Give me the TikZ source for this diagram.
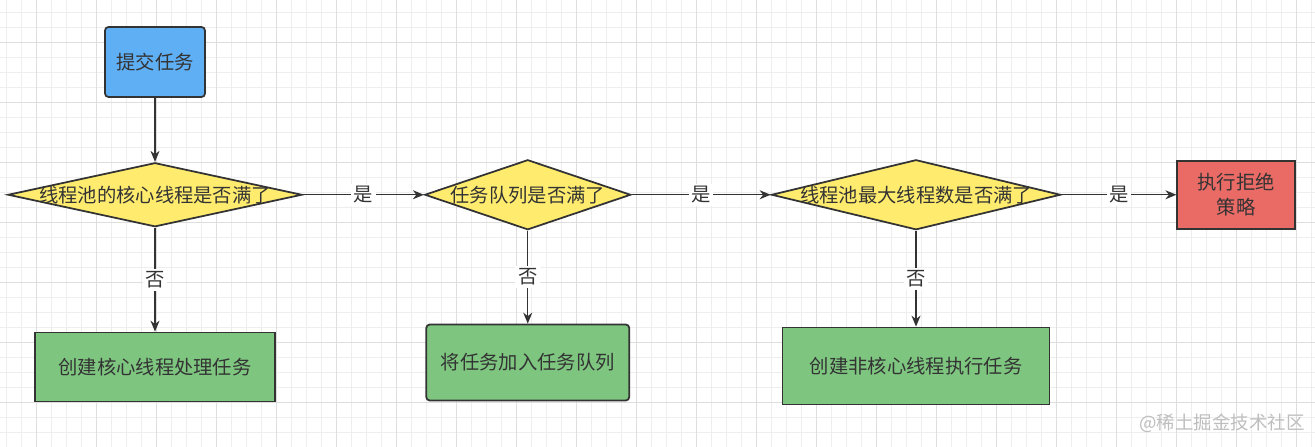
\documentclass[tikz,border=0pt]{standalone}
\usepackage{fontspec}
\usepackage{tikz}
\usetikzlibrary{arrows.meta,positioning,shapes.geometric}
\newfontfamily\cjk{Noto Sans CJK SC}
\definecolor{darkline}{RGB}{51,51,51}
\definecolor{gridminor}{RGB}{238,238,238}
\definecolor{gridmajor}{RGB}{222,222,222}
\definecolor{startblue}{RGB}{95,175,245}
\definecolor{askyellow}{RGB}{255,236,110}
\definecolor{doneGreen}{RGB}{126,198,128}
\definecolor{rejectred}{RGB}{234,107,102}
\definecolor{marktext}{RGB}{190,190,190}

\begin{document}
\begin{tikzpicture}[
        font=\cjk\fontsize{11}{14}\selectfont, text=darkline,
        startbox/.style={rectangle, draw=darkline, line width=1pt, fill=startblue, minimum width=2cm, minimum height=1.4cm, rounded corners=2pt},
        ask/.style={diamond, draw=darkline, line width=1pt, fill=askyellow, inner sep=0pt},
        workbox/.style={rectangle, draw=darkline, line width=1pt, fill=doneGreen, align=center},
        rejectbox/.style={rectangle, draw=darkline, line width=1pt, fill=rejectred, align=center, minimum width=2.36cm, minimum height=1.36cm},
        arrow/.style={-{Stealth[length=2.2mm, width=1.8mm, inset=0.7mm]}, line width=0.8pt, draw=darkline},
        answer/.style={fill=white, inner sep=1.5pt, midway}
    ]
    % background grid
    \fill[white] (0,0) rectangle (26.3,-8.92);
    \begin{scope}
        \clip (0,0) rectangle (26.3,-8.92);
        \draw[gridminor, line width=0.5pt, step=0.3cm, shift={(0.12,-0.254)}] (-0.6,-9.3) grid (26.4,0.6);
        \draw[gridmajor, line width=0.5pt, step=1.2cm, shift={(0.72,-0.854)}] (-1.2,-9.6) grid (26.4,1.2);
    \end{scope}
    \useasboundingbox (0,0) rectangle (26.3,-8.92);

    \node[startbox] (submit) at (3.1,-1.24) {提交任务};
    \node[ask, minimum width=5.88cm, minimum height=1.28cm, below=1.28cm of submit] (coreFull) {\makebox[0pt]{线程池的核心线程是否满了}};
    \node[ask, minimum width=4.12cm, minimum height=1.4cm, right=2.42cm of coreFull] (queueFull) {\makebox[0pt]{任务队列是否满了}};
    \node[ask, minimum width=5.78cm, minimum height=1.4cm, right=2.78cm of queueFull] (maxFull) {\makebox[0pt]{线程池最大线程数是否满了}};
    \node[rejectbox, right=2.3cm of maxFull] (reject) {执行拒绝\\策略};

    \node[workbox, minimum width=4.8cm, minimum height=1.38cm, below=2.08cm of coreFull] (newCore) {创建核心线程处理任务};
    \node[workbox, rounded corners=2pt, minimum width=4.06cm, minimum height=1.52cm, below=1.86cm of queueFull] (toQueue) {将任务加入任务队列};
    \node[workbox, minimum width=5.34cm, minimum height=1.54cm, below=1.92cm of maxFull] (newExtra) {创建非核心线程执行任务};

    \draw[arrow] (submit) -- (coreFull);
    \draw[arrow] (coreFull) -- node[answer] {是} (queueFull);
    \draw[arrow] (queueFull) -- node[answer] {是} (maxFull);
    \draw[arrow] (maxFull) -- node[answer] {是} (reject);
    \draw[arrow] (coreFull) -- node[answer] {否} (newCore);
    \draw[arrow] (queueFull) -- node[answer] {否} (toQueue);
    \draw[arrow] (maxFull) -- node[answer] {否} (newExtra);

    \node[text=marktext, font=\cjk\fontsize{10.5}{12}\selectfont] (mark) at (24.44,-8.46) {@稀土掘金技术社区};
\end{tikzpicture}
\end{document}
